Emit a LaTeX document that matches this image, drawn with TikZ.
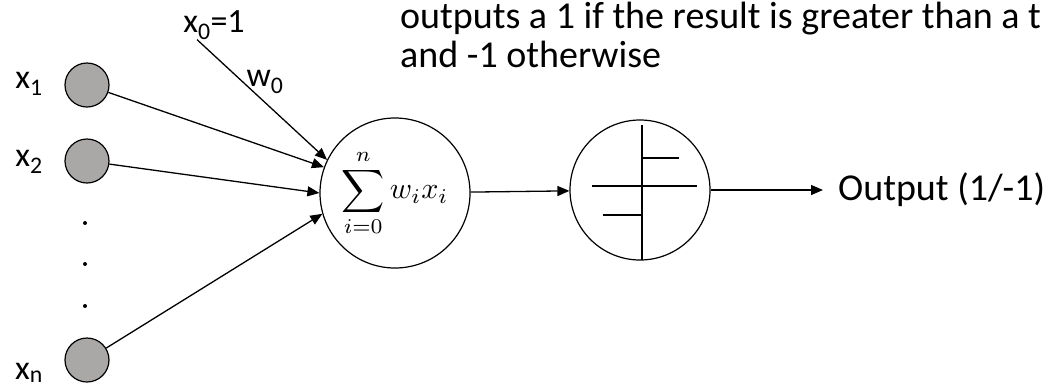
\documentclass[tikz,border=0pt]{standalone}
\usepackage{fontspec}
\setmainfont{Carlito}
\usetikzlibrary{arrows.meta,positioning}
\definecolor{ingray}{RGB}{170,167,167}
\tikzstyle{inp}=[circle,draw,fill=ingray,minimum size=44pt,inner sep=0pt,line width=1.2pt]
\tikzstyle{unit}=[circle,draw,minimum size=150pt,inner sep=0pt,line width=1.2pt]
\tikzstyle{lbl}=[font=\fontsize{34}{39}\selectfont,inner sep=0pt]
\tikzstyle{big}=[font=\fontsize{38}{39}\selectfont,inner sep=0pt]
\tikzstyle{arr}=[-{Triangle[length=12pt,width=10pt]},line width=1.3pt]

\begin{document}
\begin{tikzpicture}[x=1pt,y=-1pt]
\useasboundingbox (0,0) rectangle (1051,389);
% inputs
\node[inp] (in1) at (87,85) {};
\node[inp] (in2) at (87,161) {};
\node[inp] (inn) at (87,360) {};
\node[lbl] (l1) at (29,84) {x\textsubscript{1}};
\node[lbl] (l2) at (29,162) {x\textsubscript{2}};
\node[lbl] (ln) at (29,373) {x\textsubscript{n}};
\foreach \y in {223,264,306} \fill (85,\y) circle (2pt);
% bias
\node[lbl] (x0) at (214,25) {x\textsubscript{0}=1};
\node[lbl] (w0) at (265,82) {w\textsubscript{0}};
% units
\node[unit] (sum) at (395,193) {\scalebox{3}{$\displaystyle\sum_{i=0}^{n} w_i x_i$}};
\node[unit,minimum size=140pt] (step) at (640,190) {};
\draw[line width=1.2pt] (642,125) -- (642,260);
\draw[line width=1.2pt] (592,186) -- (697,186);
\draw[line width=1.2pt] (642,158) -- (679,158);
\draw[line width=1.2pt] (603,215) -- (642,215);
% texts
\node[big,anchor=base west,align=left] (note) at (400,67) {outputs a 1 if the result is greater than a t\\and -1 otherwise};
\node[big,anchor=west,inner xsep=15pt] (out) at (823,190) {Output (1/-1)};
% connectors
\draw[arr] ([xshift=14pt]x0.south west) -- (sum.154);
\draw[arr] (in1) -- (sum.160);
\draw[arr] (in2) -- (sum.180);
\draw[arr] (inn) -- (sum.196);
\draw[arr] (sum) -- (step);
\draw[arr] (step) -- (out);
\end{tikzpicture}
\end{document}
